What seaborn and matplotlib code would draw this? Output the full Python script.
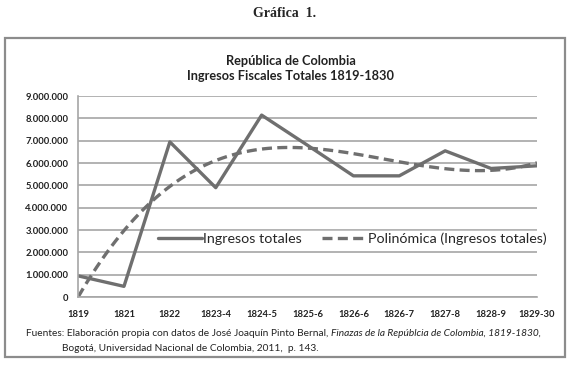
import matplotlib
matplotlib.use("Agg")
import matplotlib.pyplot as plt
from matplotlib.patches import Rectangle
from matplotlib.ticker import FuncFormatter
import pandas as pd
import seaborn as sns

# Data
PERIODS = ['1819', '1821', '1822', '1823-4', '1824-5', '1825-6',
           '1826-6', '1826-7', '1827-8', '1828-9', '1829-30']
INGRESOS = [950000, 480000, 6950000, 4900000, 8150000, 6800000,
            5430000, 5430000, 6550000, 5760000, 5880000]

LINE_COLOR = '#6f6f6f'
GRID_COLOR = '#a6a6a6'
FONT = ['Lato', 'DejaVu Sans']


def dot_thousands(v, pos):
    return f"{int(round(v)):,}".replace(',', '.')


def main():
    sns.set_style("white")
    plt.rcParams['font.family'] = FONT

    df = pd.DataFrame({'pos': range(len(PERIODS)), 'Periodo': PERIODS,
                       'Ingresos': INGRESOS})

    fig = plt.figure(figsize=(5.7, 3.77), dpi=100)
    ax = fig.add_axes([0.137, 0.212, 0.805, 0.533])

    sns.lineplot(data=df, x='pos', y='Ingresos', ax=ax, color=LINE_COLOR,
                 lw=2.4, label='Ingresos totales')
    # Excel-style polynomial trend line
    sns.regplot(data=df, x='pos', y='Ingresos', ax=ax, order=3, ci=None,
                scatter=False, truncate=True,
                label='Polinómica (Ingresos totales)',
                line_kws=dict(color=LINE_COLOR, lw=2.4, ls=(0, (3, 1.6))))

    ax.set_xlim(0, len(PERIODS) - 1)
    ax.set_ylim(0, 9000000)
    ax.set_xticks(range(len(PERIODS)))
    ax.set_xticklabels(PERIODS)
    ax.set_yticks(range(0, 9000001, 1000000))
    ax.yaxis.set_major_formatter(FuncFormatter(dot_thousands))
    ax.set_xlabel('')
    ax.set_ylabel('')
    ax.grid(axis='y', color=GRID_COLOR, lw=1.2)
    ax.set_axisbelow(True)
    for side in ['top', 'right']:
        ax.spines[side].set_visible(False)
    for side in ['left', 'bottom']:
        ax.spines[side].set_color(GRID_COLOR)
        ax.spines[side].set_linewidth(1.2)
    ax.tick_params(axis='both', direction='out', length=3, width=1,
                   color=GRID_COLOR, labelsize=6.8)
    ax.tick_params(axis='x', pad=6)
    ax.tick_params(axis='y', pad=4)
    for lab in ax.get_xticklabels() + ax.get_yticklabels():
        lab.set_fontweight('bold')
        lab.set_color('#222222')

    leg = ax.legend(loc='center left', bbox_to_anchor=(0.17, 0.29), ncol=2,
                    frameon=True, fontsize=10.3, handlelength=3.1,
                    handletextpad=0.1, columnspacing=1.4, borderpad=0.1,
                    borderaxespad=0)
    leg.get_frame().set_facecolor('white')
    leg.get_frame().set_edgecolor('white')
    leg.get_frame().set_alpha(1)

    # Chart frame
    fig.patches.append(Rectangle((0.009, 0.053), 0.983, 0.846,
                                 transform=fig.transFigure, fill=False,
                                 edgecolor='#8c8c8c', lw=1.6))

    fig.text(0.5, 0.963, 'Gráfica  1.', ha='center', va='center',
             fontsize=10, fontweight='bold',
             family=['Liberation Serif', 'DejaVu Serif'])
    fig.text(0.51, 0.818, 'República de Colombia\nIngresos Fiscales Totales 1819-1830',
             ha='center', va='center', fontsize=9.2, fontweight='bold',
             linespacing=1.3, color='#222222')

    t1 = fig.text(0.046, 0.110,
                  'Fuentes: Elaboración propia con datos de José Joaquín Pinto Bernal, ',
                  ha='left', va='baseline', fontsize=7.3, color='#222222')
    ax.annotate('Finazas de la Repúblcia de Colombia, 1819-1830,',
                xy=(1, 0), xycoords=t1, ha='left', va='bottom',
                fontsize=7.3, style='italic', color='#222222')
    fig.text(0.109, 0.068, 'Bogotá, Universidad Nacional de Colombia, 2011,  p. 143.',
             ha='left', va='baseline', fontsize=7.3, color='#222222')

    fig.savefig('out.png', dpi=100)


if __name__ == "__main__":
    main()
